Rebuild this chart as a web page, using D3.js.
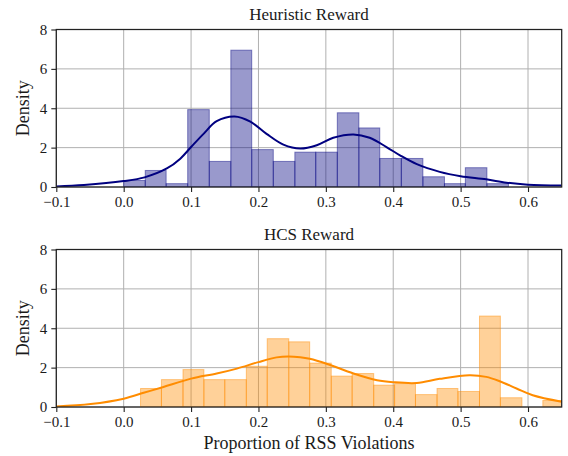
<!DOCTYPE html>
<html><head><meta charset="utf-8">
<script src="https://cdn.jsdelivr.net/npm/d3@7"></script>
<style>
body{margin:0;background:#fff}
svg{display:block}
text{font-family:"Liberation Serif","Times New Roman",serif;fill:#1a1a1a}
</style>
</head><body><div id="chart"></div>
<script>
// ---------- data ----------
const xTicks = [-0.1, 0.0, 0.1, 0.2, 0.3, 0.4, 0.5, 0.6];
const yTicks = [0, 2, 4, 6, 8];
const xDomain = [-0.1, 0.65];
const yDomain = [0, 8];

const titles = ["Heuristic Reward", "HCS Reward"];
const xLabel = "Proportion of RSS Violations";
const yLabel = "Density";

// Heuristic Reward histogram (bin edges, density per bin)
const heuristicEdges = [0.000, 0.032, 0.063, 0.095, 0.127, 0.159, 0.190, 0.222, 0.254, 0.285,
                        0.317, 0.349, 0.380, 0.412, 0.444, 0.476, 0.507, 0.539, 0.571];
const heuristicDensity = [0.33, 0.84, 0.17, 3.93, 1.30, 6.95, 1.90, 1.30, 1.77,
                          1.77, 3.77, 3.00, 1.45, 1.45, 0.52, 0.17, 0.98, 0.17];
// Heuristic KDE curve
const heuristicKdeX = [-0.1, -0.059, 0.0, 0.031, 0.064, 0.084, 0.1, 0.1185, 0.138, 0.1645, 0.188,
                       0.212, 0.237, 0.262, 0.2865, 0.311, 0.341, 0.365, 0.39, 0.41, 0.435, 0.469,
                       0.5, 0.538, 0.568, 0.6, 0.65];
const heuristicKdeY = [0.03, 0.10, 0.30, 0.49, 0.94, 1.44, 2.03, 2.70, 3.34, 3.58, 3.32,
                       2.70, 2.15, 1.95, 2.12, 2.50, 2.67, 2.50, 2.03, 1.61, 1.16, 0.77,
                       0.55, 0.39, 0.22, 0.12, 0.07];

// HCS Reward histogram
const hcsEdges = [0.025, 0.056, 0.088, 0.119, 0.150, 0.182, 0.213, 0.245, 0.276, 0.308, 0.339,
                  0.371, 0.402, 0.433, 0.465, 0.496, 0.528, 0.559, 0.591, 0.622, 0.653];
const hcsDensity = [0.94, 1.39, 1.90, 1.39, 1.39, 2.07, 3.47, 3.31, 2.23, 1.57,
                    1.70, 1.11, 1.19, 0.63, 0.94, 0.79, 4.62, 0.47, 0.00, 0.33];
const hcsKdeX = [-0.1, -0.049, 0.0, 0.0296, 0.059, 0.1, 0.138, 0.168, 0.2, 0.227, 0.244, 0.262,
                 0.276, 0.301, 0.341, 0.376, 0.4, 0.435, 0.469, 0.513, 0.538, 0.558, 0.583,
                 0.607, 0.65];
const hcsKdeY = [0.03, 0.15, 0.42, 0.72, 1.02, 1.44, 1.70, 1.95, 2.28, 2.52, 2.57, 2.53,
                 2.45, 2.20, 1.70, 1.36, 1.26, 1.22, 1.43, 1.61, 1.53, 1.31, 0.94,
                 0.60, 0.27];

const panels = [
  {title: titles[0], edges: heuristicEdges, dens: heuristicDensity, kx: heuristicKdeX, ky: heuristicKdeY,
   color: "#000080", top: 29.5, showXLabel: false},
  {title: titles[1], edges: hcsEdges, dens: hcsDensity, kx: hcsKdeX, ky: hcsKdeY,
   color: "#ff8c00", top: 249.5, showXLabel: true}
];

// ---------- drawing ----------
const W = 568, H = 456;
const left = 56.3, right = 561.7, ph = 157.5;
const svg = d3.select("#chart").append("svg").attr("width", W).attr("height", H);

const x = d3.scaleLinear().domain(xDomain).range([left, right]);
const fmt = d => d3.format(".1f")(d).replace("-", "\u2212");

panels.forEach((p, pi) => {
  const y = d3.scaleLinear().domain(yDomain).range([p.top + ph, p.top]);
  const g = svg.append("g");
  const clipId = "clip" + pi;
  svg.append("defs").append("clipPath").attr("id", clipId)
    .append("rect").attr("x", left).attr("y", p.top).attr("width", right - left).attr("height", ph);

  // grid
  g.append("g").selectAll("line.v").data(xTicks).join("line")
    .attr("x1", d => x(d)).attr("x2", d => x(d)).attr("y1", p.top).attr("y2", p.top + ph)
    .attr("stroke", "#b0b0b0").attr("stroke-width", 1);
  g.append("g").selectAll("line.h").data(yTicks).join("line")
    .attr("x1", left).attr("x2", right).attr("y1", d => y(d)).attr("y2", d => y(d))
    .attr("stroke", "#b0b0b0").attr("stroke-width", 1);

  // bars
  const bins = p.dens.map((d, i) => ({x0: p.edges[i], x1: p.edges[i + 1], v: d})).filter(b => b.v > 0);
  g.append("g").attr("clip-path", `url(#${clipId})`).selectAll("rect").data(bins).join("rect")
    .attr("x", b => x(b.x0)).attr("width", b => x(b.x1) - x(b.x0))
    .attr("y", b => y(b.v)).attr("height", b => y(0) - y(b.v))
    .attr("fill", p.color).attr("fill-opacity", 0.4)
    .attr("stroke", p.color).attr("stroke-opacity", 0.45).attr("stroke-width", 1);

  // kde
  const pts = p.kx.map((v, i) => [v, p.ky[i]]);
  g.append("path").attr("clip-path", `url(#${clipId})`)
    .attr("d", d3.line().x(d => x(d[0])).y(d => y(d[1])).curve(d3.curveCatmullRom.alpha(0.5))(pts))
    .attr("fill", "none").attr("stroke", p.color).attr("stroke-width", 2);

  // axes
  const xa = g.append("g").attr("transform", `translate(0,${p.top + ph})`)
    .call(d3.axisBottom(x).tickValues(xTicks).tickFormat(fmt).tickSize(5).tickPadding(4));
  const ya = g.append("g").attr("transform", `translate(${left},0)`)
    .call(d3.axisLeft(y).tickValues(yTicks).tickFormat(d3.format("d")).tickSize(5).tickPadding(4));
  [xa, ya].forEach(a => {
    a.select(".domain").remove();
    a.selectAll("line").attr("stroke", "#222").attr("stroke-width", 1.1);
    a.selectAll("text").style("font-family", '"Liberation Serif","Times New Roman",serif')
      .style("font-size", "15px").attr("fill", "#222");
  });

  // frame
  g.append("rect").attr("x", left).attr("y", p.top).attr("width", right - left).attr("height", ph)
    .attr("fill", "none").attr("stroke", "#222").attr("stroke-width", 1.25);

  // title
  g.append("text").attr("x", (left + right) / 2).attr("y", p.top - 9.5)
    .attr("text-anchor", "middle").style("font-size", "17px").text(p.title);

  // y label
  g.append("text").attr("transform", `translate(29,${p.top + ph / 2}) rotate(-90)`)
    .attr("text-anchor", "middle").style("font-size", "18px").text(yLabel);

  if (p.showXLabel) {
    g.append("text").attr("x", (left + right) / 2).attr("y", p.top + ph + 42)
      .attr("text-anchor", "middle").style("font-size", "18px").text(xLabel);
  }
});
</script>
</body></html>
